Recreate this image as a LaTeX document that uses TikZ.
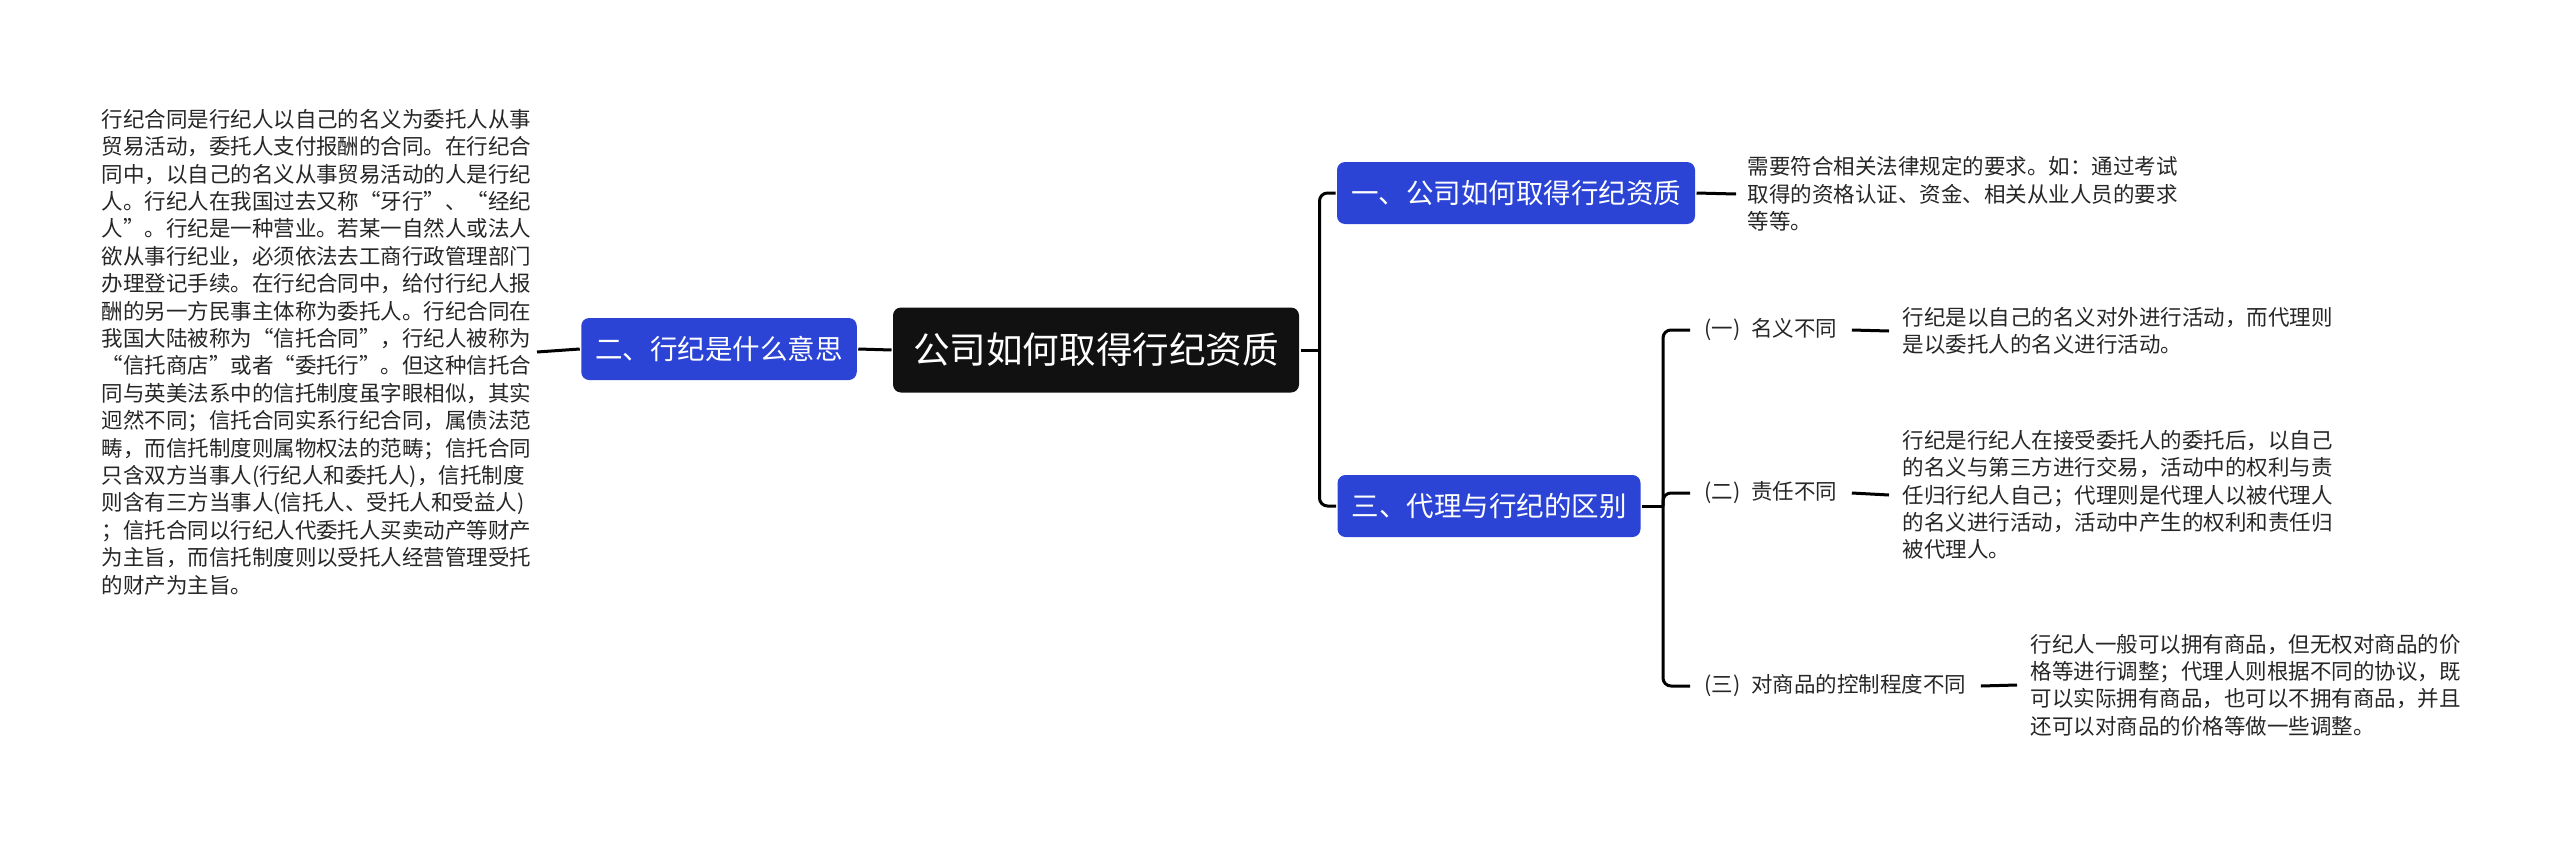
\documentclass[tikz,border=0pt]{standalone}
\usepackage{fontspec}
\setmainfont{Noto Sans CJK SC}
\definecolor{topicblue}{HTML}{2B44D6}
\definecolor{rootblack}{HTML}{111111}

\begin{document}
\begin{tikzpicture}[
        x=0.5pt, y=-0.5pt,
        line width=1.5pt,
        box/.style={rounded corners=4pt, text=white, inner xsep=7pt, inner ysep=0pt,
            minimum height=31pt, font=\fontsize{13.75}{16}\selectfont},
        root box/.style={box, fill=rootblack, inner xsep=10pt, minimum height=42.5pt,
            font=\fontsize{18.3}{22}\selectfont},
        topic box/.style={box, fill=topicblue},
        sub label/.style={inner sep=6.5pt, text=black!85, font=\fontsize{10.75}{13.7}\selectfont},
        detail/.style={align=left, inner sep=6pt, text=black!85, font=\fontsize{10.75}{13.7}\selectfont},
        link/.style={rounded corners=4pt}
    ]
        \useasboundingbox (0,0) rectangle (2560,841);

        \node[root box]  (root) at (1096,350) {公司如何取得行纪资质};
        \node[topic box] (t1) at (1516,193) {一、公司如何取得行纪资质};
        \node[topic box] (t2) at (719,349)  {二、行纪是什么意思};
        \node[topic box] (t3) at (1489,506) {三、代理与行纪的区别};

        \node[detail, anchor=east, inner sep=2pt] (d0) at (537,352) {行纪合同是行纪人以自己的名义为委托人从事\\
            贸易活动，委托人支付报酬的合同。在行纪合\\
            同中，以自己的名义从事贸易活动的人是行纪\\
            人。行纪人在我国过去又称“牙行”、“经纪\\
            人”。行纪是一种营业。若某一自然人或法人\\
            欲从事行纪业，必须依法去工商行政管理部门\\
            办理登记手续。在行纪合同中，给付行纪人报\\
            酬的另一方民事主体称为委托人。行纪合同在\\
            我国大陆被称为“信托合同”，行纪人被称为\\
            “信托商店”或者“委托行”。但这种信托合\\
            同与英美法系中的信托制度虽字眼相似，其实\\
            迥然不同；信托合同实系行纪合同，属债法范\\
            畴，而信托制度则属物权法的范畴；信托合同\\
            只含双方当事人(行纪人和委托人)，信托制度\\
            则含有三方当事人(信托人、受托人和受益人)\\
            ；信托合同以行纪人代委托人买卖动产等财产\\
            为主旨，而信托制度则以受托人经营管理受托\\
            的财产为主旨。};

        \node[detail, anchor=west, inner sep=5pt] (d1) at (1736,194) {需要符合相关法律规定的要求。如：通过考试\\
            取得的资格认证、资金、相关从业人员的要求\\
            等等。};

        \node[sub label, anchor=west] (s1) at (1690,330) {(一)\hspace{0.5em}名义不同};
        \node[sub label, anchor=west] (s2) at (1690,493) {(二)\hspace{0.5em}责任不同};
        \node[sub label, anchor=west] (s3) at (1690,686) {(三)\hspace{0.5em}对商品的控制程度不同};

        \node[detail, anchor=west] (d21) at (1889,331) {行纪是以自己的名义对外进行活动，而代理则\\
            是以委托人的名义进行活动。};
        \node[detail, anchor=west] (d22) at (1889,495) {行纪是行纪人在接受委托人的委托后，以自己\\
            的名义与第三方进行交易，活动中的权利与责\\
            任归行纪人自己；代理则是代理人以被代理人\\
            的名义进行活动，活动中产生的权利和责任归\\
            被代理人。};
        \node[detail, anchor=west] (d23) at (2017,685) {行纪人一般可以拥有商品，但无权对商品的价\\
            格等进行调整；代理人则根据不同的协议，既\\
            可以实际拥有商品，也可以不拥有商品，并且\\
            还可以对商品的价格等做一些调整。};

        \draw (root.east) -- ++(19,0) coordinate (j1);
        \draw[link] (j1) |- (t1.west);
        \draw[link] (j1) |- (t3.west);
        \draw (root.west) -- (t2.east);
        \draw (t2.west) -- (d0.east);
        \draw (t1.east) -- (d1.west);
        \draw (t3.east) -- ++(21,0) coordinate (j3);
        \draw[link] (j3) |- (s1.west);
        \draw[link] (j3) |- (s2.west);
        \draw[link] (j3) |- (s3.west);
        \draw (s1.east) -- (d21.west);
        \draw (s2.east) -- (d22.west);
        \draw (s3.east) -- (d23.west);
    \end{tikzpicture}
\end{document}
